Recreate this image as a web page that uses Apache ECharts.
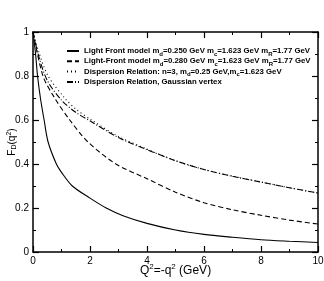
<!DOCTYPE html>
<html><head><meta charset="utf-8">
<script src="https://cdn.jsdelivr.net/npm/echarts@6/dist/echarts.min.js"></script>
<style>html,body{margin:0;padding:0;background:#fff}#c{width:324px;height:281px}</style>
</head><body><div id="c"></div>
<script>
const xTicks = [0, 2, 4, 6, 8, 10];
const yTicks = [0, 0.2, 0.4, 0.6, 0.8, 1];
const seriesNames = ['lf250', 'lf280', 'drn3', 'drg'];
// Light Front model md=0.250
const q1 = [0, 0.09, 0.16, 0.26, 0.39, 0.53, 0.82, 1.0, 1.38, 2.0, 2.57, 3.16, 4, 5, 6, 7, 8, 9, 10];
const f1 = [1, 0.9, 0.8, 0.7, 0.6, 0.5, 0.4, 0.362, 0.3, 0.245, 0.2, 0.165, 0.13, 0.10, 0.08, 0.067, 0.056, 0.049, 0.043];
// Light-Front model md=0.280
const q2 = [0, 0.35, 0.76, 1.29, 1.93, 2.91, 4, 5, 6, 7, 8, 9, 10];
const f2 = [1, 0.8, 0.7, 0.6, 0.5, 0.4, 0.333, 0.272, 0.224, 0.192, 0.167, 0.145, 0.127];
// Dispersion Relation n=3
const q3 = [0, 0.2, 0.53, 1.11, 1.5, 2.05, 3, 4, 5, 6, 7, 8, 9, 10];
const f3 = [1, 0.91, 0.8, 0.7, 0.65, 0.6, 0.525, 0.468, 0.415, 0.375, 0.345, 0.318, 0.292, 0.268];
// Dispersion Relation, Gaussian vertex
const q4 = [0, 0.2, 0.5, 1.0, 1.5, 2.05, 3, 4, 5, 6, 7, 8, 9, 10];
const f4 = [1, 0.89, 0.78, 0.69, 0.635, 0.592, 0.52, 0.465, 0.415, 0.375, 0.344, 0.318, 0.292, 0.268];

const legendText = {
  lf250: '{t|Light Front model m}{s|d}{t|=0.250 GeV m}{s|c}{t|=1.623 GeV m}{s|R}{t|=1.77 GeV}',
  lf280: '{t|Light-Front model m}{s|d}{t|=0.280 GeV m}{s|c}{t|=1.623 GeV m}{s|R}{t|=1.77 GeV}',
  drn3: '{t|Dispersion Relation: n=3, m}{s|d}{t|=0.25 GeV,m}{s|c}{t|=1.623 GeV}',
  drg: '{t|Dispersion Relation, Gaussian vertex}'
};

const pairs = (q, f) => q.map((v, i) => [v, f[i]]);
const chart = echarts.init(document.getElementById('c'), null, {renderer: 'canvas'});
const font = 'Liberation Sans, Arial, sans-serif';
const axisCommon = {
  axisLine: {show: true, onZero: false, lineStyle: {color: '#000', width: 1.5}},
  axisTick: {show: true, inside: true, length: 6, lineStyle: {color: '#000', width: 1.2}},
  minorTick: {show: true, splitNumber: 2, length: 3, lineStyle: {color: '#000', width: 1}},
  splitLine: {show: false}
};
const mk = (name, q, f, type) => ({
  name: name, type: 'line', data: pairs(q, f), showSymbol: false, symbol: 'none',
  smooth: 0.3, lineStyle: {color: '#000', width: 1.1, type: type}, itemStyle: {color: '#000'}
});
chart.setOption({
  animation: false,
  textStyle: {fontFamily: font},
  grid: {left: 33, right: 6, top: 32, bottom: 29, containLabel: false, outerBoundsMode: 'none'},
  xAxis: [
    Object.assign({type: 'value', min: xTicks[0], max: xTicks[xTicks.length - 1], interval: 2,
      name: '{n|Q}{p|2}{n|=-q}{p|2}{n| (GeV)}', nameLocation: 'middle', nameGap: 11, nameMoveOverlap: false,
      nameTextStyle: {rich: {n: {fontSize: 12, color: '#000', fontFamily: font, lineHeight: 14, verticalAlign: 'bottom'},
                             p: {fontSize: 8, color: '#000', fontFamily: font, lineHeight: 14, verticalAlign: 'top', padding: [0,0,6,0]}}},
      axisLabel: {color: '#000', fontSize: 10, margin: 4, fontFamily: font}}, axisCommon),
    Object.assign({type: 'value', position: 'top', min: 0, max: 10, interval: 2, axisLabel: {show: false}}, axisCommon)
  ],
  yAxis: [
    Object.assign({type: 'value', min: yTicks[0], max: yTicks[yTicks.length - 1], interval: 0.2,
      name: '{n|F}{b|D}{n|(q}{p|2}{n|)}', nameLocation: 'middle', nameGap: 15, nameRotate: 90, nameMoveOverlap: false,
      nameTextStyle: {rich: {n: {fontSize: 10, color: '#000', fontFamily: font, lineHeight: 12, verticalAlign: 'middle'},
                             b: {fontSize: 7, color: '#000', fontFamily: font, lineHeight: 7, verticalAlign: 'bottom'},
                             p: {fontSize: 7, color: '#000', fontFamily: font, lineHeight: 7, verticalAlign: 'top'}}},
      axisLabel: {color: '#000', fontSize: 10, margin: 4, fontFamily: font,
        formatter: v => (v === 0 || v === 1) ? String(v) : v.toFixed(1)}}, axisCommon),
    Object.assign({type: 'value', position: 'right', min: 0, max: 1, interval: 0.2, axisLabel: {show: false}}, axisCommon)
  ],
  legend: {
    show: true, orient: 'vertical', left: 61, top: 42, itemWidth: 12, itemHeight: 8, itemGap: 0.3,
    data: seriesNames, selectedMode: false,
    itemStyle: {color: 'rgba(0,0,0,0)', borderWidth: 0, opacity: 0},
    formatter: n => legendText[n],
    textStyle: {rich: {
      t: {fontSize: 7.8, fontWeight: 'bold', color: '#000', fontFamily: font, lineHeight: 12, verticalAlign: 'middle'},
      s: {fontSize: 6, fontWeight: 'bold', color: '#000', fontFamily: font, lineHeight: 6, verticalAlign: 'bottom'}
    }}
  },
  series: [
    mk(seriesNames[0], q1, f1, 'solid'),
    mk(seriesNames[1], q2, f2, [5, 3]),
    mk(seriesNames[2], q3, f3, [1, 3]),
    mk(seriesNames[3], q4, f4, [6, 2, 1, 2])
  ]
});
</script></body></html>
